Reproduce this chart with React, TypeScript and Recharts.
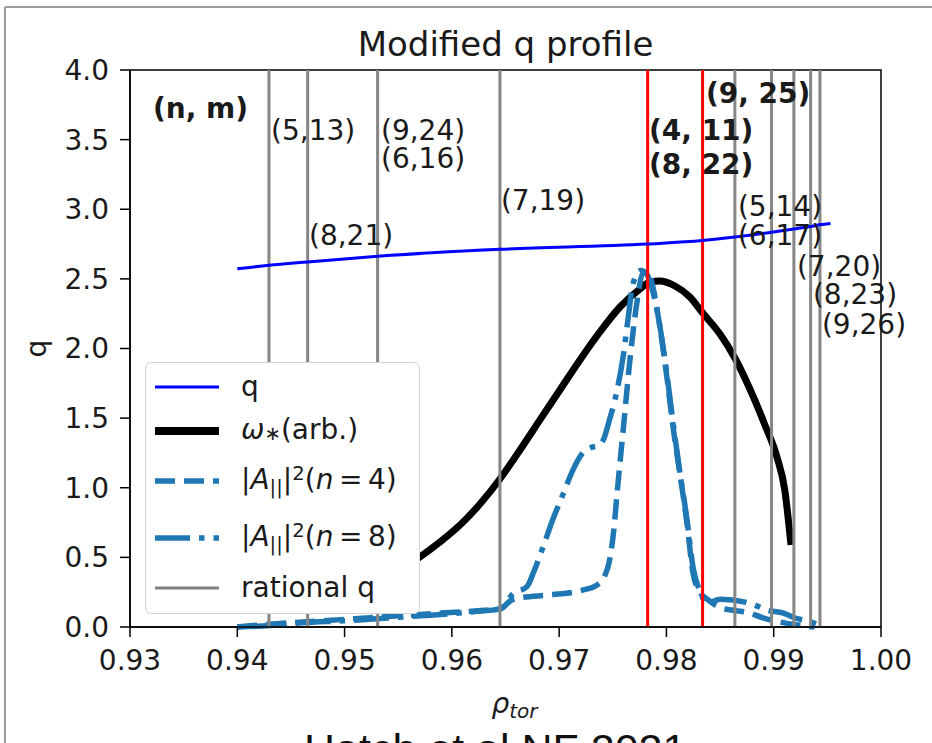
import React from 'react';
import {
  ComposedChart,
  Line,
  XAxis,
  YAxis,
  ReferenceLine,
  ReferenceArea,
  Scatter,
  Legend,
} from 'recharts';

// ---------- data ----------
const xTicks = [0.93, 0.94, 0.95, 0.96, 0.97, 0.98, 0.99, 1.0];
const yTicks = [0, 0.5, 1.0, 1.5, 2.0, 2.5, 3.0, 3.5, 4.0];

// rational q surfaces (gray) and resonant ones (red)
const rationalRho = [0.94295, 0.94656, 0.95308, 0.96448, 0.98638, 0.9898, 0.99188, 0.99344, 0.99431];
const resonantRho = [0.97825, 0.98337];

// q profile
const qRho = [0.94, 0.94295, 0.94656, 0.95308, 0.96448, 0.97825, 0.98337, 0.98638, 0.9898, 0.99188, 0.99344, 0.99431, 0.9953];
const qVal = [2.572, 2.598, 2.622, 2.662, 2.712, 2.75, 2.775, 2.8, 2.835, 2.858, 2.876, 2.888, 2.898];

// omega_* (arb.)
const omRho = [0.955, 0.95703, 0.95889, 0.96076, 0.96262, 0.96448, 0.96635, 0.96821, 0.97007, 0.97194, 0.9738, 0.97567, 0.97753, 0.97846, 0.97939, 0.98079, 0.98219, 0.98331, 0.98499, 0.98638, 0.98778, 0.98918, 0.9903, 0.99103, 0.99161];
const omVal = [0.4, 0.503, 0.61, 0.732, 0.883, 1.063, 1.271, 1.487, 1.702, 1.918, 2.119, 2.298, 2.427, 2.478, 2.485, 2.449, 2.37, 2.262, 2.104, 1.932, 1.709, 1.451, 1.221, 0.984, 0.589];

// |A_par|^2 (n = 4)
const a4Rho = [0.94, 0.943, 0.947, 0.951, 0.955, 0.959, 0.963, 0.9645, 0.9655, 0.9664, 0.9691, 0.9722, 0.9735, 0.9742, 0.9747, 0.9751, 0.9754, 0.976, 0.9766, 0.97725, 0.9778, 0.9783, 0.97874, 0.9794, 0.98005, 0.98061, 0.98126, 0.98191, 0.98247, 0.98312, 0.9838, 0.985, 0.9862, 0.9878, 0.989, 0.9906, 0.9922, 0.9938];
const a4Val = [0.0, 0.02, 0.04, 0.06, 0.08, 0.1, 0.12, 0.13, 0.19, 0.21, 0.23, 0.265, 0.3, 0.36, 0.48, 0.7, 0.96, 1.44, 1.92, 2.33, 2.54, 2.55, 2.44, 2.15, 1.79, 1.44, 1.1, 0.75, 0.39, 0.25, 0.2, 0.14, 0.12, 0.1, 0.065, 0.036, 0.015, 0.0];

// |A_par|^2 (n = 8)
const a8Rho = [0.94, 0.943, 0.946, 0.95, 0.954, 0.958, 0.962, 0.9645, 0.9657, 0.967, 0.9676, 0.9685, 0.9694, 0.9704, 0.9713, 0.9722, 0.973, 0.9736, 0.9741, 0.9747, 0.9754, 0.976, 0.9764, 0.9769, 0.9776, 0.9782, 0.9787, 0.9793, 0.98, 0.9806, 0.9812, 0.9819, 0.9825, 0.9831, 0.9838, 0.985, 0.9878, 0.9894, 0.9909, 0.9918, 0.9937, 0.9946];
const a8Val = [0.0, 0.01, 0.03, 0.045, 0.065, 0.085, 0.11, 0.13, 0.24, 0.29, 0.39, 0.575, 0.77, 0.96, 1.13, 1.25, 1.29, 1.3, 1.34, 1.49, 1.7, 1.96, 2.2, 2.47, 2.56, 2.53, 2.42, 2.2, 1.84, 1.48, 1.14, 0.78, 0.42, 0.26, 0.17, 0.2, 0.17, 0.12, 0.1, 0.07, 0.03, 0.0];

// (n, m) annotations
const labelText = ['(n, m)', '(5,13)', '(9,24)', '(6,16)', '(8,21)', '(7,19)', '(9, 25)', '(4, 11)', '(8, 22)', '(5,14)', '(6,17)', '(7,20)', '(8,23)', '(9,26)'];
const labelRho = [0.93205, 0.94305, 0.9533, 0.9533, 0.94659, 0.96448, 0.98359, 0.97828, 0.97828, 0.98657, 0.98657, 0.99207, 0.99356, 0.9944];
const labelQ = [3.727, 3.562, 3.562, 3.361, 2.808, 3.066, 3.828, 3.569, 3.318, 3.023, 2.808, 2.592, 2.391, 2.169];
const labelBold = [true, false, false, false, false, false, true, true, true, false, false, false, false, false];

const legendNames = ['q', 'omega', 'n4', 'n8', 'rational'];

// ---------- helpers ----------
const zip = (xs: number[], ys: number[]) => xs.map((x, i) => ({ x, y: ys[i] }));
const qData = zip(qRho, qVal);
const omData = zip(omRho, omVal);
const a4Data = zip(a4Rho, a4Val);
const a8Data = zip(a8Rho, a8Val);
const labelData = labelText.map((t, i) => ({ x: labelRho[i], y: labelQ[i], text: t, bold: labelBold[i] }));

const FONT = '"DejaVu Sans", sans-serif';
const TXT = '#1a1a1a';
const TAB_BLUE = '#1f77b4';

const W = 932;
const H = 780;
const MARGIN = { top: 70, right: 51, bottom: 93, left: 0 };
const Y_W = 130;
const X_H = 60;
const PLOT_LEFT = MARGIN.left + Y_W;
const PLOT_RIGHT = W - MARGIN.right;
const PLOT_TOP = MARGIN.top;
const PLOT_BOTTOM = H - MARGIN.bottom - X_H;

const LabelShape = (props: any) => {
  const { cx, cy, payload } = props;
  return (
    <text
      x={cx + 1}
      y={cy}
      dominantBaseline="central"
      fontFamily={FONT}
      fontSize={28}
      fontWeight={payload.bold ? 'bold' : 'normal'}
      fill={TXT}
    >
      {payload.text}
    </text>
  );
};

const sub = (s: string) => (
  <span style={{ fontSize: '0.7em', position: 'relative', top: '0.3em' }}>{s}</span>
);
const sup = (s: string) => (
  <span style={{ fontSize: '0.7em', position: 'relative', top: '-0.45em' }}>{s}</span>
);

const legendRows: Record<string, any> = {
  q: { c: 24, stroke: '#0000ff', w: 3, dash: undefined, label: <span>q</span> },
  omega: {
    c: 68,
    stroke: '#000000',
    w: 8,
    dash: undefined,
    label: (
      <span>
        <i>ω</i>
        <span style={{ fontSize: '0.7em', position: 'relative', top: '0.1em' }}>∗</span>(arb.)
      </span>
    ),
  },
  n4: {
    c: 118,
    stroke: TAB_BLUE,
    w: 5.5,
    dash: '20 9',
    label: (
      <span>
        |<i>A</i>
        {sub('||')}|{sup('2')}(<i>n</i>&#8201;=&#8201;4)
      </span>
    ),
  },
  n8: {
    c: 175,
    stroke: TAB_BLUE,
    w: 5.5,
    dash: '35 9 5.5 9',
    label: (
      <span>
        |<i>A</i>
        {sub('||')}|{sup('2')}(<i>n</i>&#8201;=&#8201;8)
      </span>
    ),
  },
  rational: { c: 225, stroke: '#808080', w: 3, dash: undefined, label: <span>rational q</span> },
};

const LegendBox = () => (
  <div
    style={{
      position: 'relative',
      width: 275,
      height: 252,
      boxSizing: 'border-box',
      background: '#ffffff',
      border: '1.5px solid #d4d4d4',
      borderRadius: 6,
      fontFamily: FONT,
      fontSize: 28,
      color: TXT,
    }}
  >
    {legendNames.map((k) => {
      const r = legendRows[k];
      return (
        <div
          key={k}
          style={{
            position: 'absolute',
            left: 0,
            top: r.c - 22,
            height: 44,
            width: 275,
            display: 'flex',
            alignItems: 'center',
          }}
        >
          <svg width={64} height={20} style={{ marginLeft: 9, overflow: 'visible' }}>
            <line x1={0} y1={10} x2={64} y2={10} stroke={r.stroke} strokeWidth={r.w} strokeDasharray={r.dash} />
          </svg>
          <div style={{ marginLeft: 22, whiteSpace: 'nowrap', lineHeight: '44px' }}>{r.label}</div>
        </div>
      );
    })}
  </div>
);

const XLabel = () => (
  <text x={(PLOT_LEFT + PLOT_RIGHT) / 2 - 14} y={713} fontFamily={FONT} fontSize={28} fontStyle="italic" fill={TXT}>
    ρ
    <tspan fontSize={20} dy={5}>
      tor
    </tspan>
  </text>
);

const YLabel = () => {
  const cx = 36;
  const cy = (PLOT_TOP + PLOT_BOTTOM) / 2;
  return (
    <text
      x={cx}
      y={cy}
      transform={`rotate(-90 ${cx} ${cy})`}
      textAnchor="middle"
      dominantBaseline="central"
      fontFamily={FONT}
      fontSize={28}
      fill={TXT}
    >
      q
    </text>
  );
};

export default function App() {
  return (
    <div style={{ position: 'absolute', left: 0, top: 0, width: 932, height: 743, overflow: 'hidden', background: '#fff' }}>
      <svg width={932} height={743} style={{ position: 'absolute', left: 0, top: 0 }}>
        <line x1={5} y1={7} x2={932} y2={7} stroke="#9a9a9a" strokeWidth={2} />
        <line x1={5} y1={7} x2={5} y2={743} stroke="#9a9a9a" strokeWidth={2} />
        <text x={(PLOT_LEFT + PLOT_RIGHT) / 2} y={56} textAnchor="middle" fontFamily={FONT} fontSize={34} fill={TXT}>
          Modified q profile
        </text>
        <text x={304} y={764} fontFamily='"Liberation Sans", Arial, sans-serif' fontSize={43} fill="#111">
          Hatch et al NF 2021
        </text>
      </svg>
      <div style={{ position: 'absolute', left: 0, top: 0 }}>
        <ComposedChart width={W} height={H} margin={MARGIN} style={{ fontFamily: FONT }}>
          <XAxis
            type="number"
            dataKey="x"
            domain={[0.93, 1.0]}
            ticks={xTicks}
            height={X_H}
            tickSize={10}
            tickMargin={13}
            interval={0}
            tickFormatter={(v: number) => v.toFixed(2)}
            tick={{ fontSize: 28, fill: TXT, fontFamily: FONT }}
            axisLine={{ stroke: '#000', strokeWidth: 1.5 }}
            tickLine={{ stroke: '#000', strokeWidth: 1.5 }}
            label={<XLabel />}
          />
          <YAxis
            type="number"
            dataKey="y"
            domain={[0, 4]}
            ticks={yTicks}
            width={Y_W}
            tickSize={10}
            tickMargin={11}
            interval={0}
            tickFormatter={(v: number) => v.toFixed(1)}
            tick={{ fontSize: 28, fill: TXT, fontFamily: FONT }}
            axisLine={{ stroke: '#000', strokeWidth: 1.5 }}
            tickLine={{ stroke: '#000', strokeWidth: 1.5 }}
            label={<YLabel />}
          />
          <ReferenceArea x1={0.93} x2={1.0} y1={0} y2={4} fill="none" fillOpacity={0} stroke="#000" strokeWidth={1.5} />
          <Line data={omData} dataKey="y" type="monotone" stroke="#000" strokeWidth={7} dot={false} activeDot={false} isAnimationActive={false} />
          <Line data={a4Data} dataKey="y" type="monotone" stroke={TAB_BLUE} strokeWidth={5.5} strokeDasharray="20 9" dot={false} activeDot={false} isAnimationActive={false} />
          <Line data={a8Data} dataKey="y" type="monotone" stroke={TAB_BLUE} strokeWidth={5.5} strokeDasharray="35 9 5.5 9" dot={false} activeDot={false} isAnimationActive={false} />
          {rationalRho.map((r) => (
            <ReferenceLine key={'g' + r} x={r} stroke="#868686" strokeWidth={3} />
          ))}
          {resonantRho.map((r) => (
            <ReferenceLine key={'r' + r} x={r} stroke="#ff0000" strokeWidth={3} />
          ))}
          <Line data={qData} dataKey="y" type="monotone" stroke="#0000ff" strokeWidth={3} dot={false} activeDot={false} isAnimationActive={false} />
          <Scatter data={labelData} dataKey="y" shape={LabelShape} isAnimationActive={false} />
          <Legend
            layout="vertical"
            align="center"
            verticalAlign="middle"
            content={() => <LegendBox />}
            wrapperStyle={{ left: 145, top: 362, width: 275, height: 252, zIndex: 10 }}
          />
        </ComposedChart>
      </div>
    </div>
  );
}
